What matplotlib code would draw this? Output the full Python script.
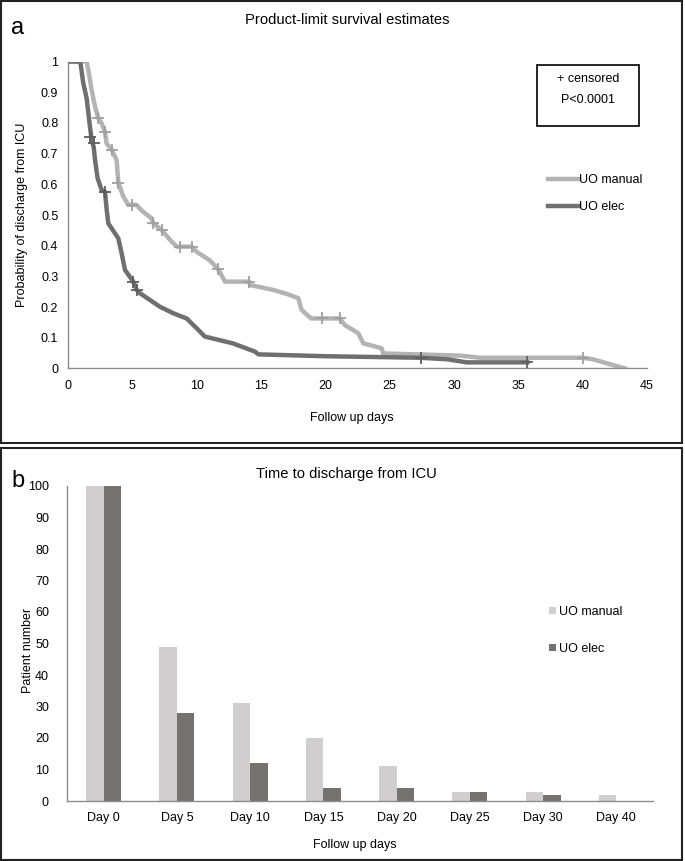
import matplotlib
matplotlib.use("Agg")
import matplotlib.pyplot as plt
from matplotlib.patches import Rectangle
import numpy as np

plt.rcParams['font.family'] = ['Liberation Sans', 'DejaVu Sans']

# ---- panel a: Kaplan-Meier style curves ----
manual_days = [0, 1.45, 1.58, 1.84, 2.1, 2.36, 2.6, 2.87, 3.0, 3.4, 3.78, 3.91, 4.3, 4.69,
               5.3, 5.85, 6.5, 6.63, 7.28, 7.93, 8.45, 9.6, 10.0, 11.0, 11.68, 12.2, 14.09,
               14.14, 15.95, 17.0, 17.9, 18.15, 18.9, 21.13, 21.5, 22.56, 22.95, 24.37, 24.5,
               30.5, 32.0, 40.0, 40.8, 43.3]
manual_prob = [1.0, 1.0, 0.972, 0.907, 0.853, 0.815, 0.80, 0.771, 0.733, 0.712, 0.679, 0.605,
               0.56, 0.533, 0.533, 0.51, 0.489, 0.473, 0.451, 0.419, 0.397, 0.397, 0.38, 0.353,
               0.323, 0.283, 0.283, 0.272, 0.256, 0.243, 0.229, 0.191, 0.163, 0.163, 0.142,
               0.115, 0.082, 0.066, 0.049, 0.042, 0.035, 0.035, 0.03, 0.0]
manual_cens_days = [2.36, 2.87, 3.4, 3.91, 5.0, 6.63, 7.28, 8.7, 9.6, 11.68, 14.09, 19.71, 21.13, 40.0]
manual_cens_prob = [0.815, 0.771, 0.712, 0.605, 0.533, 0.473, 0.451, 0.397, 0.397, 0.323, 0.283,
                    0.163, 0.163, 0.035]

elec_days = [0, 0.95, 1.19, 1.45, 1.7, 1.84, 2.0, 2.1, 2.3, 2.62, 2.87, 3.0, 3.13, 3.91, 4.17,
             4.43, 5.07, 5.34, 5.6, 7.15, 8.18, 9.22, 10.0, 10.64, 12.8, 14.53, 14.8, 20.0,
             27.4, 29.5, 31.0, 35.7]
elec_prob = [1.0, 1.0, 0.929, 0.88, 0.79, 0.745, 0.72, 0.68, 0.62, 0.581, 0.576, 0.52, 0.473,
             0.424, 0.375, 0.321, 0.283, 0.256, 0.245, 0.201, 0.18, 0.163, 0.131, 0.104, 0.082,
             0.055, 0.046, 0.04, 0.035, 0.03, 0.02, 0.02]
elec_cens_days = [1.7, 2.0, 2.87, 5.07, 5.34, 27.4, 35.7]
elec_cens_prob = [0.753, 0.734, 0.576, 0.283, 0.256, 0.035, 0.02]

# ---- panel b: bar chart ----
day_labels = ['Day 0', 'Day 5', 'Day 10', 'Day 15', 'Day 20', 'Day 25', 'Day 30', 'Day 40']
manual_counts = [100, 49, 31, 20, 11, 3, 3, 2]
elec_counts = [100, 28, 12, 4, 4, 3, 2, 0]

light = '#b3b3b3'
dark = '#6f6f6f'
bar_light = '#d0cecf'
bar_dark = '#767171'
spine_col = '#8c8c8c'
fs = 9.0

W, H = 685, 861
fig = plt.figure(figsize=(W / 100, H / 100), dpi=100)

def fx(x):
    return x / W

def fy(y):
    return 1 - y / H

# panel frames
fig.add_artist(Rectangle((fx(1), fy(443)), fx(681), 442 / H, transform=fig.transFigure,
                         fill=False, lw=1.5, ec='#222222'))
fig.add_artist(Rectangle((fx(1), fy(860)), fx(681), 412 / H, transform=fig.transFigure,
                         fill=False, lw=1.5, ec='#222222'))

# ---------------- panel a ----------------
ax1 = fig.add_axes([fx(68), fy(368.5), fx(647 - 68), 307 / H])
ax1.plot(manual_days, manual_prob, color=light, lw=3.2, solid_joinstyle='round', label='UO manual')
ax1.plot(elec_days, elec_prob, color=dark, lw=3.2, solid_joinstyle='round', label='UO elec')
ax1.plot(manual_cens_days, manual_cens_prob, ls='none', marker='+', ms=9, mew=1.3, color='#a0a0a0')
ax1.plot(elec_cens_days, elec_cens_prob, ls='none', marker='+', ms=9, mew=1.3, color='#5e5e5e')
ax1.set_xlim(0, 45)
ax1.set_ylim(0, 1)
ax1.set_xticks(np.arange(0, 46, 5))
ax1.set_yticks(np.arange(0, 1.01, 0.1))
ax1.set_yticklabels(['0', '0.1', '0.2', '0.3', '0.4', '0.5', '0.6', '0.7', '0.8', '0.9', '1'])
ax1.tick_params(length=0, labelsize=fs)
ax1.tick_params(axis='y', pad=7)
ax1.tick_params(axis='x', pad=8)
for s in ['top', 'right']:
    ax1.spines[s].set_visible(False)
for s in ['left', 'bottom']:
    ax1.spines[s].set_color(spine_col)
    ax1.spines[s].set_linewidth(1.0)
ax1.legend(loc='upper left', bbox_to_anchor=(fx(548), fy(174)), bbox_transform=fig.transFigure,
           frameon=False, fontsize=fs, handlelength=2.5, handletextpad=0.0,
           labelspacing=1.2, borderaxespad=0, borderpad=0)

fig.text(fx(347), fy(20), 'Product-limit survival estimates', ha='center', va='center', fontsize=10.6)
fig.text(fx(11), fy(28), 'a', ha='left', va='center', fontsize=17)
fig.text(fx(22), fy(215), 'Probability of discharge from ICU', rotation=90,
         ha='center', va='center', fontsize=fs)
fig.text(fx(352), fy(418), 'Follow up days', ha='center', va='center', fontsize=fs)

fig.add_artist(Rectangle((fx(537), fy(125.7)), fx(102), 60.7 / H, transform=fig.transFigure,
                         fill=False, lw=1.2, ec='black'))
fig.text(fx(588), fy(79), '+ censored', ha='center', va='center', fontsize=fs)
fig.text(fx(588), fy(100), 'P<0.0001', ha='center', va='center', fontsize=fs)

# ---------------- panel b ----------------
ax2 = fig.add_axes([fx(67), fy(801), fx(653 - 67), 315 / H])
x = np.arange(len(day_labels))
bw = 0.24
ax2.bar(x - bw / 2, manual_counts, width=bw, color=bar_light, label='UO manual')
ax2.bar(x + bw / 2, elec_counts, width=bw, color=bar_dark, label='UO elec')
ax2.set_xlim(-0.5, len(day_labels) - 0.5)
ax2.set_ylim(0, 100)
ax2.set_yticks(np.arange(0, 101, 10))
ax2.set_xticks(x)
ax2.set_xticklabels(day_labels)
ax2.tick_params(length=0, labelsize=fs)
ax2.tick_params(axis='y', pad=13)
ax2.tick_params(axis='x', pad=8)
for s in ['top', 'right']:
    ax2.spines[s].set_visible(False)
for s in ['left', 'bottom']:
    ax2.spines[s].set_color(spine_col)
    ax2.spines[s].set_linewidth(1.0)
ax2.legend(loc='upper left', bbox_to_anchor=(fx(549), fy(606)), bbox_transform=fig.transFigure,
           frameon=False, fontsize=fs, handlelength=0.55, handleheight=0.55, handletextpad=0.25,
           labelspacing=2.0, borderaxespad=0, borderpad=0)

fig.text(fx(346), fy(474), 'Time to discharge from ICU', ha='center', va='center', fontsize=10.6)
fig.text(fx(11), fy(481), 'b', ha='left', va='center', fontsize=17)
fig.text(fx(28), fy(650), 'Patient number', rotation=90, ha='center', va='center', fontsize=fs)
fig.text(fx(355), fy(845), 'Follow up days', ha='center', va='center', fontsize=fs)

fig.savefig('out.png', dpi=100)
